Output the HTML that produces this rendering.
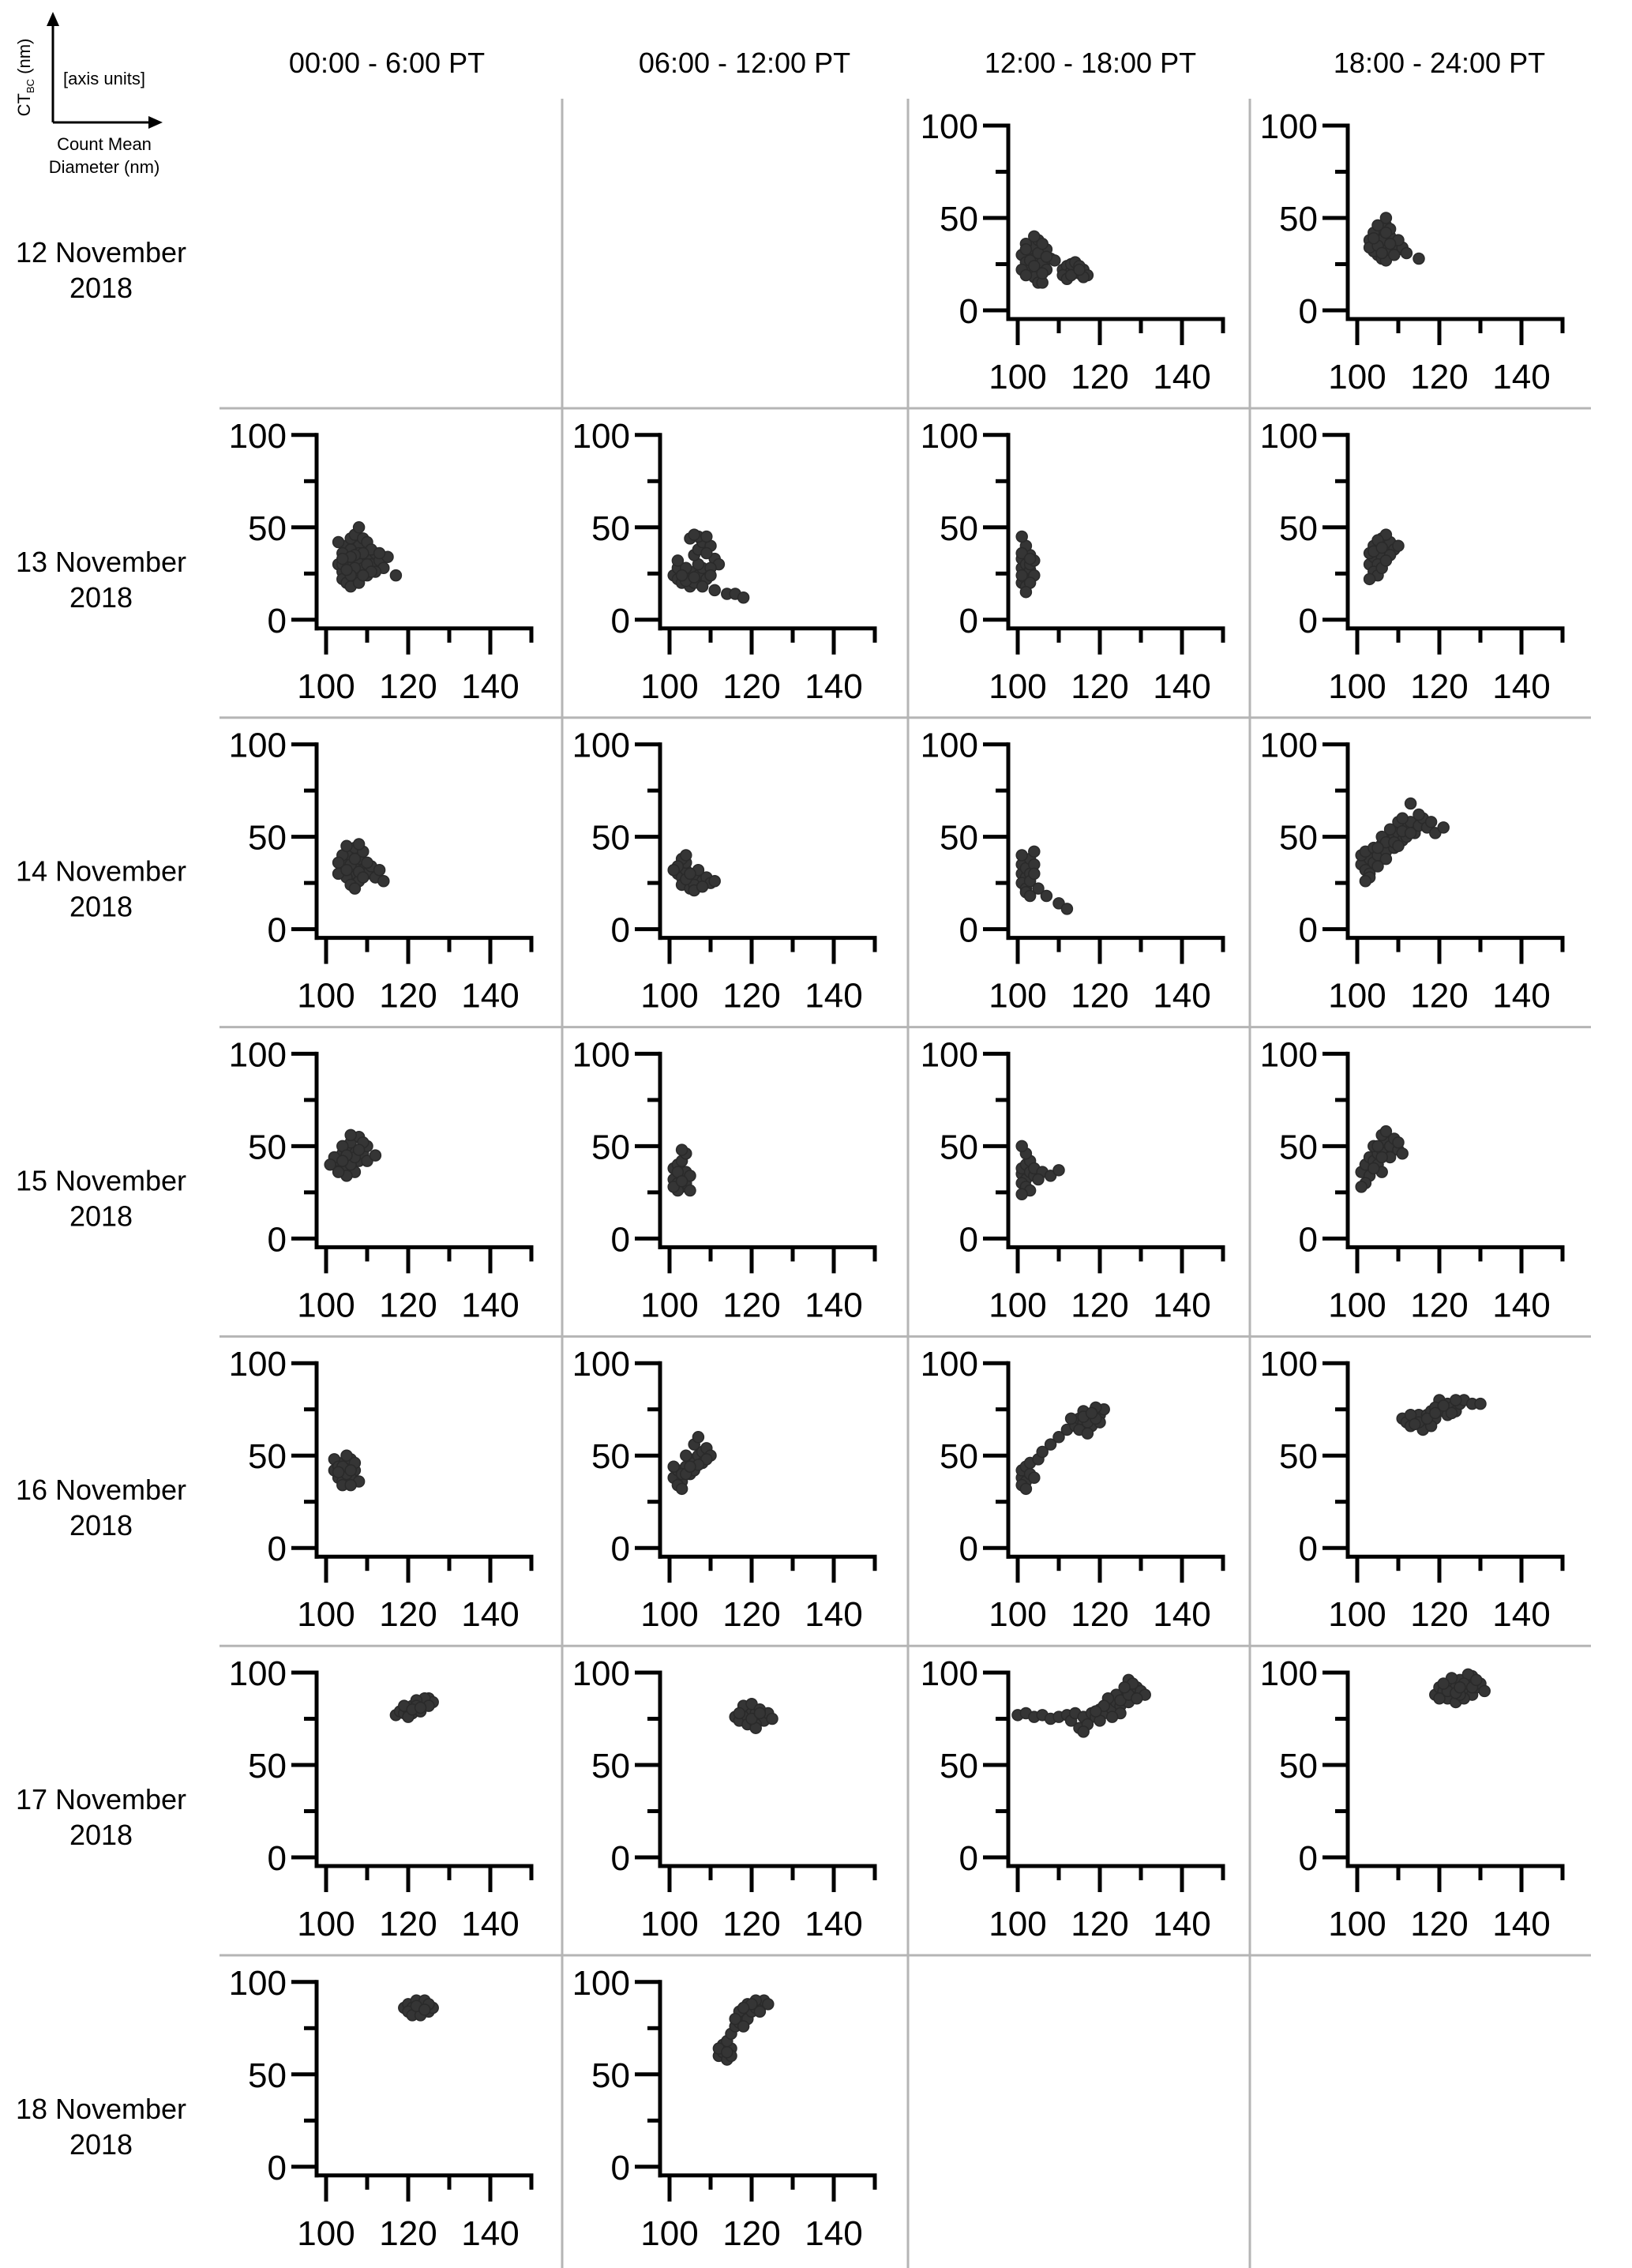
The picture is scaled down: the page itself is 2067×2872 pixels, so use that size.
<!DOCTYPE html>
<html><head><meta charset="utf-8"><style>
html,body{margin:0;padding:0;background:#fff;}
svg{display:block;font-family:"Liberation Sans",sans-serif;}
</style></head><body>
<svg id="chart" width="2067" height="2872" viewBox="0 0 2067 2872" xmlns="http://www.w3.org/2000/svg">
<g>
<line x1="67" y1="155" x2="67" y2="28" stroke="#000" stroke-width="3"/>
<polygon points="67,15 59,33 75,33" fill="#000"/>
<line x1="67" y1="155" x2="192" y2="155" stroke="#000" stroke-width="3"/>
<polygon points="206,155 188,147 188,163" fill="#000"/>
<text x="80" y="107" font-size="22">[axis units]</text>
<text transform="translate(38,98) rotate(-90)" text-anchor="middle" font-size="22">CT<tspan font-size="13" dy="5">BC</tspan><tspan dy="-5"> (nm)</tspan></text>
<text x="132" y="190" text-anchor="middle" font-size="22">Count Mean</text>
<text x="132" y="219" text-anchor="middle" font-size="22">Diameter (nm)</text>
</g>
<g id="grid"></g>
<g id="labels"></g>
<g id="panels"></g>
</svg>
<script>
const columns = ["00:00 - 6:00 PT","06:00 - 12:00 PT","12:00 - 18:00 PT","18:00 - 24:00 PT"];
const rows = ["12 November","13 November","14 November","15 November","16 November","17 November","18 November"];
const yTicks = [0,25,50,75,100];
const yTickLabels = ["0","","50","","100"];
const xTicks = [100,110,120,130,140,150];
const xTickLabels = ["100","","120","","140",""];

const p02 = [[101,30],[102,26],[103,32],[104,28],[105,24],[106,30],[103,22],[104,35],[102,36],[105,38],[106,26],[107,22],[104,18],[105,15],[106,15],[101,22],[103,27],[107,33],[108,28],[102,19],[105,31],[104,40],[106,36],[109,27],[102,33],[104,24],[106,20],[107,29],[111,22],[112,24],[113,21],[114,23],[115,20],[116,22],[113,25],[111,19],[117,19],[112,17],[114,26],[115,24],[116,18],[113,19],[115,22]];
const p03 = [[104,36],[105,40],[106,34],[107,38],[108,32],[105,30],[106,44],[107,46],[104,42],[103,38],[109,36],[110,33],[108,40],[106,28],[107,27],[105,46],[108,44],[109,30],[111,34],[112,31],[115,28],[104,32],[110,38],[106,38],[107,50],[103,34],[105,35],[107,42],[108,36],[106,31],[104,39]];
const p10 = [[103,30],[104,26],[105,34],[106,30],[107,24],[108,32],[109,28],[110,34],[111,30],[112,36],[113,32],[114,28],[105,40],[106,44],[107,46],[108,40],[109,44],[110,42],[104,22],[105,20],[106,18],[108,20],[110,24],[112,26],[115,34],[117,24],[106,38],[108,36],[104,36],[111,38],[113,36],[107,28],[109,36],[103,42],[108,50],[106,24],[104,30],[105,27],[107,35],[110,30],[111,26],[109,24],[106,34],[104,33]];
const p11 = [[101,24],[102,22],[103,26],[104,24],[105,22],[106,26],[107,24],[102,28],[104,28],[103,20],[105,18],[106,20],[108,28],[109,22],[107,30],[106,35],[107,38],[108,42],[105,44],[107,45],[110,40],[111,33],[112,30],[109,36],[110,28],[108,18],[110,24],[114,14],[116,14],[118,12],[111,16],[102,32],[106,46],[109,45],[104,21],[106,23],[103,24]];
const p12 = [[101,28],[102,25],[101,33],[102,30],[103,27],[101,20],[102,22],[103,35],[102,40],[101,45],[103,30],[104,24],[102,18],[101,36],[103,20],[104,32],[102,15],[101,24],[103,33]];
const p13 = [[103,30],[104,34],[105,38],[106,34],[107,40],[105,30],[104,26],[106,44],[108,42],[109,38],[107,46],[104,40],[103,36],[105,24],[106,28],[108,35],[110,40],[103,22],[107,32],[105,43],[104,37],[106,39]];
const p20 = [[104,32],[105,36],[106,30],[107,34],[108,38],[109,32],[110,30],[105,28],[106,40],[107,44],[108,26],[104,40],[103,36],[111,34],[112,28],[114,26],[106,24],[107,22],[109,42],[105,45],[108,46],[110,36],[103,30],[113,32],[106,35],[108,31],[105,32],[107,38],[109,28]];
const p21 = [[102,30],[103,28],[104,32],[105,26],[106,30],[107,28],[108,26],[103,24],[105,22],[104,36],[103,38],[102,34],[106,24],[109,28],[110,25],[111,26],[104,40],[107,32],[101,32],[106,21],[108,23],[104,27],[105,30]];
const p22 = [[101,30],[102,28],[101,35],[102,33],[103,30],[101,25],[102,22],[103,38],[104,42],[101,40],[102,20],[103,26],[104,35],[105,22],[107,18],[110,14],[112,11],[104,30],[103,18]];
const p23 = [[101,35],[102,32],[103,38],[104,36],[101,40],[102,42],[103,30],[104,44],[105,40],[106,46],[107,42],[108,48],[109,50],[110,52],[111,48],[112,55],[113,58],[114,52],[115,56],[116,60],[117,55],[118,58],[119,52],[121,55],[113,68],[106,50],[108,54],[110,58],[112,50],[105,34],[107,38],[103,28],[102,26],[109,44],[115,62],[111,60],[107,47],[109,47],[111,53],[113,52],[105,44],[110,45]];
const p30 = [[103,42],[104,46],[105,40],[106,44],[107,48],[108,42],[109,46],[110,50],[104,38],[102,44],[105,50],[106,52],[108,55],[107,36],[105,34],[103,36],[110,42],[112,45],[104,50],[109,52],[106,56],[101,40],[106,40],[107,44],[105,45],[108,48],[104,42]];
const p31 = [[101,32],[102,30],[103,34],[104,36],[101,38],[102,40],[103,28],[104,30],[102,26],[103,42],[104,46],[105,34],[102,36],[101,28],[103,48],[105,26],[103,31]];
const p32 = [[101,35],[102,32],[101,38],[102,40],[103,36],[101,30],[102,28],[103,42],[102,46],[101,50],[104,34],[103,26],[101,24],[104,38],[106,36],[108,34],[110,37],[105,32]];
const p33 = [[101,36],[102,40],[103,44],[104,42],[105,46],[106,48],[107,52],[108,50],[106,56],[107,58],[109,54],[110,48],[104,50],[103,34],[102,30],[101,28],[105,40],[108,44],[110,52],[111,46],[106,36],[104,38],[106,44],[105,50]];
const p40 = [[102,42],[103,46],[104,40],[105,44],[106,48],[107,42],[103,38],[104,36],[105,50],[102,48],[106,38],[107,46],[108,36],[104,34],[106,34],[103,44],[105,40],[104,44],[106,42],[103,41]];
const p41 = [[101,38],[102,42],[103,36],[104,44],[105,48],[106,46],[107,50],[108,52],[109,54],[106,56],[107,60],[104,50],[103,40],[102,34],[105,40],[108,46],[110,50],[103,32],[101,44],[106,42],[109,48],[104,40],[107,45],[105,44]];
const p42 = [[101,38],[102,36],[101,42],[102,44],[103,40],[101,34],[102,32],[103,46],[104,38],[105,48],[106,52],[108,56],[110,60],[112,64],[114,66],[115,70],[116,68],[117,72],[118,70],[119,74],[120,72],[116,74],[118,66],[120,68],[121,75],[115,64],[117,62],[113,70],[119,76],[117,68],[119,70],[116,71],[118,73]];
const p43 = [[111,70],[112,68],[113,66],[114,70],[115,72],[116,68],[117,72],[118,74],[119,70],[120,76],[121,74],[122,78],[123,76],[124,74],[125,78],[126,80],[116,64],[118,66],[122,72],[120,80],[113,72],[128,78],[130,78],[119,76],[124,80],[115,68],[117,70],[121,77],[123,73],[119,73],[114,67]];
const p50 = [[117,77],[118,79],[119,78],[120,80],[121,82],[122,80],[123,84],[124,82],[125,86],[126,84],[121,78],[119,82],[123,79],[124,86],[122,85],[120,76],[125,82],[122,82],[121,80],[123,81]];
const p51 = [[116,76],[117,74],[118,78],[119,76],[120,80],[121,78],[122,76],[123,74],[124,78],[119,72],[121,72],[118,82],[120,83],[122,80],[125,75],[117,78],[121,70],[120,75],[122,78]];
const p52 = [[100,77],[102,78],[104,76],[106,77],[108,75],[110,76],[112,77],[113,74],[114,78],[115,70],[116,76],[117,72],[118,78],[119,76],[120,80],[121,78],[122,82],[123,80],[124,84],[125,82],[126,86],[127,84],[128,88],[129,92],[130,90],[131,88],[127,96],[128,94],[124,88],[120,74],[116,68],[125,78],[122,86],[123,76],[125,85],[127,88],[129,86],[126,92],[121,82],[119,79]];
const p53 = [[119,88],[120,92],[121,90],[122,94],[123,88],[124,92],[125,96],[126,90],[127,94],[128,88],[129,92],[130,94],[131,90],[122,86],[124,84],[126,86],[128,98],[123,97],[125,88],[127,99],[120,86],[122,90],[124,89],[126,94],[128,92],[125,92],[121,94],[129,96]];
const p60 = [[119,86],[120,88],[121,86],[122,84],[123,88],[124,86],[125,84],[126,86],[120,84],[122,90],[124,90],[121,82],[123,82],[125,88],[122,87],[124,85]];
const p61 = [[112,60],[113,62],[114,58],[115,64],[113,66],[112,64],[114,68],[115,72],[116,76],[117,78],[118,82],[119,80],[120,84],[121,86],[122,88],[123,90],[124,88],[119,88],[117,84],[116,80],[118,76],[121,90],[122,84],[115,60],[120,88],[118,86],[114,62]];

const panelData = [
 [null,null,p02,p03],
 [p10,p11,p12,p13],
 [p20,p21,p22,p23],
 [p30,p31,p32,p33],
 [p40,p41,p42,p43],
 [p50,p51,p52,p53],
 [p60,p61,null,null]
];

const NS="http://www.w3.org/2000/svg";
function mk(tag, attrs, parent){const e=document.createElementNS(NS,tag);for(const k in attrs)e.setAttribute(k,attrs[k]);parent.appendChild(e);return e;}
const axisXs=[401,836,1277,1707];
const headerX=[490,943,1381,1823];
const rowTop=r=>127+391.8*r;
const grid=document.getElementById('grid');
const labels=document.getElementById('labels');
const panels=document.getElementById('panels');

for(let k=1;k<=6;k++){
  const y=517+391.8*(k-1);
  const l=mk('line',{x1:278,y1:y,x2:2015,y2:y,stroke:'#b5b5b5','stroke-width':3},grid);
  
  
}
[712,1150,1583].forEach(x=>{
  const l=mk('line',{x1:x,y1:125,x2:x,y2:2872,stroke:'#b5b5b5','stroke-width':3},grid);
  
  
});
columns.forEach((c,i)=>{
  const t=mk('text',{x:headerX[i],y:92,'text-anchor':'middle','font-size':36},labels);
  t.textContent=c;
  
  
});
rows.forEach((r,i)=>{
  const T=rowTop(i);
  const t=mk('text',{x:128,y:T+205,'text-anchor':'middle','font-size':36},labels);
  t.textContent=r;
  
  
  const t2=mk('text',{x:128,y:T+250,'text-anchor':'middle','font-size':36},labels);
  t2.textContent='2018';
  
  
});

panelData.forEach((row,r)=>{
  row.forEach((pts,c)=>{
    if(!pts)return;
    const T=rowTop(r), AX=axisXs[c];
    const yS=v=>T+32+(100-v)*2.34;
    const xS=v=>AX+12+(v-100)*5.2;
    const axisY=T+277;
    const g=mk('g',{},panels);
    
    
    const ya=mk('line',{x1:AX,y1:yS(100)-2.5,x2:AX,y2:axisY+2.5,stroke:'#000','stroke-width':5},g);
    
    
    const xa=mk('line',{x1:AX-2.5,y1:axisY,x2:xS(150)+2.5,y2:axisY,stroke:'#000','stroke-width':5},g);
    
    
    yTicks.forEach((v,i)=>{
      const major=yTickLabels[i]!=='';
      const tk=mk('line',{x1:AX-(major?32:16),y1:yS(v),x2:AX,y2:yS(v),stroke:'#000','stroke-width':5},g);
      
      
      if(major){
        const t=mk('text',{x:AX-38,y:yS(v)+16,'text-anchor':'end','font-size':44},g);
        t.textContent=yTickLabels[i];
        
        
      }
    });
    xTicks.forEach((v,i)=>{
      const major=xTickLabels[i]!=='';
      const tk=mk('line',{x1:xS(v),y1:axisY,x2:xS(v),y2:axisY+(major?33:18),stroke:'#000','stroke-width':5},g);
      
      
      if(major){
        const t=mk('text',{x:xS(v),y:axisY+88,'text-anchor':'middle','font-size':44},g);
        t.textContent=xTickLabels[i];
        
        
      }
    });
    pts.forEach(p=>{
      const d=mk('circle',{cx:xS(p[0]),cy:yS(p[1]),r:7,fill:'#353535',stroke:'#2a2a2a','stroke-width':1.5},g);
      
      
    });
  });
});
</script>
</body></html>
